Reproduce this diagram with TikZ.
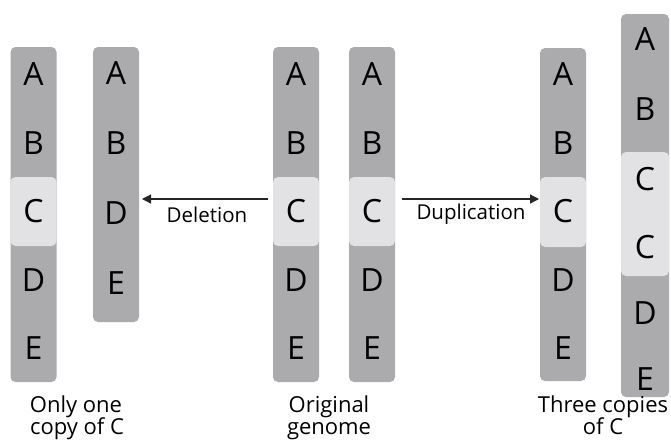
\documentclass[tikz,border=0pt]{standalone}
\usepackage{fontspec}
\setmainfont{Open Sans}
\usetikzlibrary{arrows.meta}
\definecolor{chromgray}{HTML}{ABABAD}
\definecolor{bandgray}{HTML}{E2E2E4}
\begin{document}
\begin{tikzpicture}[x=1pt,y=-1pt,
  chrom/.style={fill=chromgray, rounded corners=5pt, minimum width=46pt, inner sep=0pt, draw=none},
  band/.style={fill=bandgray, rounded corners=5pt, minimum width=46pt, inner sep=0pt, draw=none},
  gene/.style={font=\fontsize{32}{32}\selectfont, inner sep=0pt, anchor=center},
  lbl/.style={font=\fontsize{20.5}{23}\selectfont, align=center, inner sep=0pt},
  blbl/.style={font=\fontsize{22}{22}\selectfont, inner sep=0pt, anchor=base},
  arr/.style={draw=black!85, line width=1.2pt, -{Triangle[length=9pt,width=9pt]}}]
\useasboundingbox (0,0) rectangle (671,439);
% Deletion group
\node[chrom, minimum height=335pt] (l1) at (33.5,214.5) {};
\node[band, minimum height=69pt] (l1c) at (33.5,211.5) {};
\node[chrom, minimum height=275pt] (l2) at (116,184.5) {};
% Original
\node[chrom, minimum height=335pt] (o1) at (296,214.5) {};
\node[band, minimum height=69pt] (o1c) at (296,211.5) {};
\node[chrom, minimum height=335pt] (o2) at (372,214.5) {};
\node[band, minimum height=69pt] (o2c) at (372,211.5) {};
% Duplication
\node[chrom, minimum height=333pt] (d1) at (563,214.5) {};
\node[band, minimum height=70pt] (d1c) at (563,212) {};
\node[chrom, minimum height=383pt, minimum width=48pt] (d2) at (645,205.5) {};
\node[band, minimum height=124pt, minimum width=48pt] (d2c) at (645,214) {};
% letters
\foreach \n/\x in {l1/33.5,o1/296,o2/372,d1/563}{
  \node[gene] (\n A) at (\x,74) {A};
  \node[gene] (\n B) at (\x,143) {B};
  \node[gene] (\n C) at (\x,211) {C};
  \node[gene] (\n D) at (\x,280) {D};
  \node[gene] (\n E) at (\x,348) {E};
}
\node[gene] (l2A) at (116,73) {A};
\node[gene] (l2B) at (116,143) {B};
\node[gene] (l2D) at (116,213) {D};
\node[gene] (l2E) at (116,283) {E};
\node[gene] (d2A) at (645,39) {A};
\node[gene] (d2B) at (645,109) {B};
\node[gene] (d2C1) at (645,179) {C};
\node[gene] (d2C2) at (645,247) {C};
\node[gene] (d2D) at (645,313) {D};
\node[gene] (d2E) at (645,379) {E};
% arrows
\coordinate (delS) at (268,199);
\coordinate (delE) at (142,199);
\coordinate (dupS) at (402,199);
\coordinate (dupE) at (539,199);
\draw[arr] (delS) -- (delE);
\draw[arr] (dupS) -- (dupE);
\node[lbl] (dellbl) at (207,215) {Deletion};
\node[lbl] (duplbl) at (471,214) {Duplication};
% bottom labels
\node[blbl] (t1a) at (76,412) {Only one};
\node[blbl] (t1b) at (77,434) {copy of C};
\node[blbl] (t2a) at (329,412) {Original};
\node[blbl] (t2b) at (329,434) {genome};
\node[blbl] (t3a) at (603,412) {Three copies};
\node[blbl] (t3b) at (603,434) {of C};
\end{tikzpicture}
\end{document}
